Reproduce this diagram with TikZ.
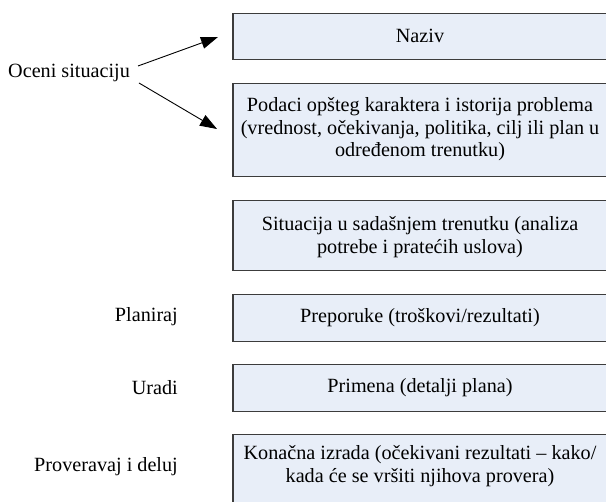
\documentclass[tikz,border=0pt]{standalone}
\usepackage{fontspec}
\setmainfont{Liberation Serif}
\usetikzlibrary{arrows.meta}
\definecolor{boxfill}{HTML}{E8EEF8}
\definecolor{boxline}{HTML}{3C3C3C}
\tikzset{
  box/.style={draw=boxline, line width=1.2pt, fill=boxfill, minimum width=380pt, inner sep=0pt, anchor=north},
  txt/.style={align=center, font=\fontsize{20.2pt}{22.5pt}\selectfont, inner sep=0pt},
  lbl/.style={font=\fontsize{20.2pt}{22.5pt}\selectfont, inner sep=0pt},
  arr/.style={draw=black, line width=0.9pt, -{Triangle[length=17pt,width=12pt]}}
}
\begin{document}
\begin{tikzpicture}[x=1pt,y=-1pt]
\clip (0,0) rectangle (606,502);
\fill[white] (0,0) rectangle (606,502);
% boxes
\node[box, minimum height=46.6pt] (b1) at (423,12.7) {};
\node[box, minimum height=93pt] (b2) at (423,83) {};
\node[box, minimum height=70pt] (b3) at (423,200) {};
\node[box, minimum height=47pt] (b4) at (423,294) {};
\node[box, minimum height=47pt] (b5) at (423,364) {};
\node[box, minimum height=80pt] (b6) at (423,434) {};
% texts
\node[txt] (t1) at (420,36) {Naziv};
\node[txt] (t2) at (420,129.5) {Podaci opšteg karaktera i istorija problema\\(vrednost, očekivanja, politika, cilj ili plan u\\određenom trenutku)};
\node[txt] (t3) at (420,237) {Situacija u sadašnjem trenutku (analiza\\potrebe i pratećih uslova)};
\node[txt] (t4) at (420,317.5) {Preporuke (troškovi/rezultati)};
\node[txt] (t5) at (420,387.5) {Primena (detalji plana)};
\node[txt] (t6) at (420,466) {Konačna izrada (očekivani rezultati – kako/\\kada će se vršiti njihova provera)};
% left labels
\node[lbl, anchor=west] (oc) at (8,73) {Oceni situaciju};
\node[lbl, anchor=east] (pl) at (178,317) {Planiraj};
\node[lbl, anchor=east] (ur) at (178,388) {Uradi};
\node[lbl, anchor=east] (pr) at (178,467) {Proveravaj i deluj};
% arrows
\coordinate (a1s) at (138,66);
\coordinate (a1e) at (218,37);
\coordinate (a2s) at (139,83);
\coordinate (a2e) at (217,129);
\draw[arr] (a1s) -- (a1e);
\draw[arr] (a2s) -- (a2e);
\end{tikzpicture}
\end{document}
